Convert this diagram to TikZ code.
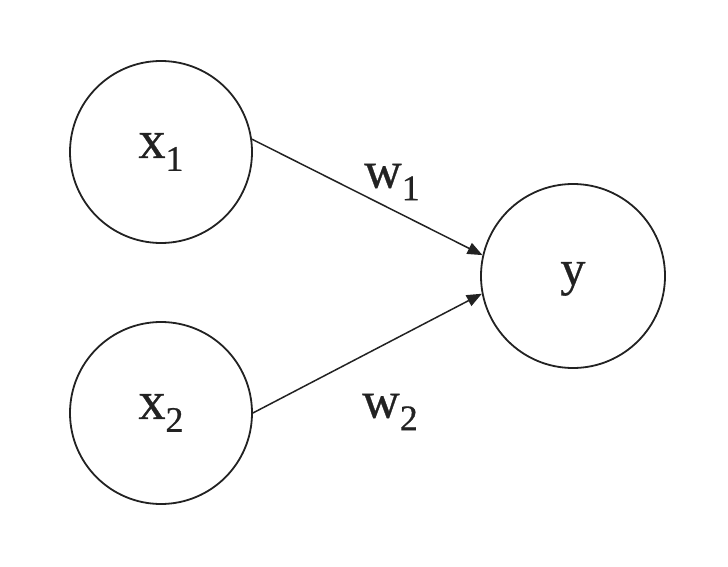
\documentclass[tikz,border=0pt]{standalone}
\usepackage{fontspec}
\setmainfont{Liberation Serif}
\newfontfamily\lblfont{Liberation Serif}[FakeBold=0.6]
\usetikzlibrary{arrows.meta}
\definecolor{ink}{HTML}{222222}
\newcommand{\lbl}[3]{\lblfont\fontsize{#3}{60}\selectfont #1\raisebox{-0.24em}{\fontsize{36}{40}\selectfont #2}}
\begin{document}
\begin{tikzpicture}[x=1pt,y=1pt,
  neuron/.style={circle,draw=ink,line width=1.8pt,minimum size=182pt,inner sep=0pt,text=ink},
  conn/.style={draw=ink,line width=1.5pt,-{Triangle[length=15pt,width=12pt]}},
  wlabel/.style={text=ink,inner sep=0pt}]
\useasboundingbox (0,0) rectangle (728,566);
\node[neuron] (x1) at (161,414) {\lbl{x}{1}{54}};
\node[neuron] (x2) at (161,153) {\lbl{x}{2}{54}};
\node[neuron,minimum size=184pt] (y) at (573,290) {\raisebox{-9pt}[0pt][0pt]{\lblfont\fontsize{50}{60}\selectfont y}};
\draw[conn] (x1.8) -- (y.167);
\draw[conn] (x2.0) -- (y.191);
\node[wlabel] (w1) at (392,384) {\lbl{w}{1}{52}};
\node[wlabel] (w2) at (390,154) {\lbl{w}{2}{52}};
\end{tikzpicture}
\end{document}
